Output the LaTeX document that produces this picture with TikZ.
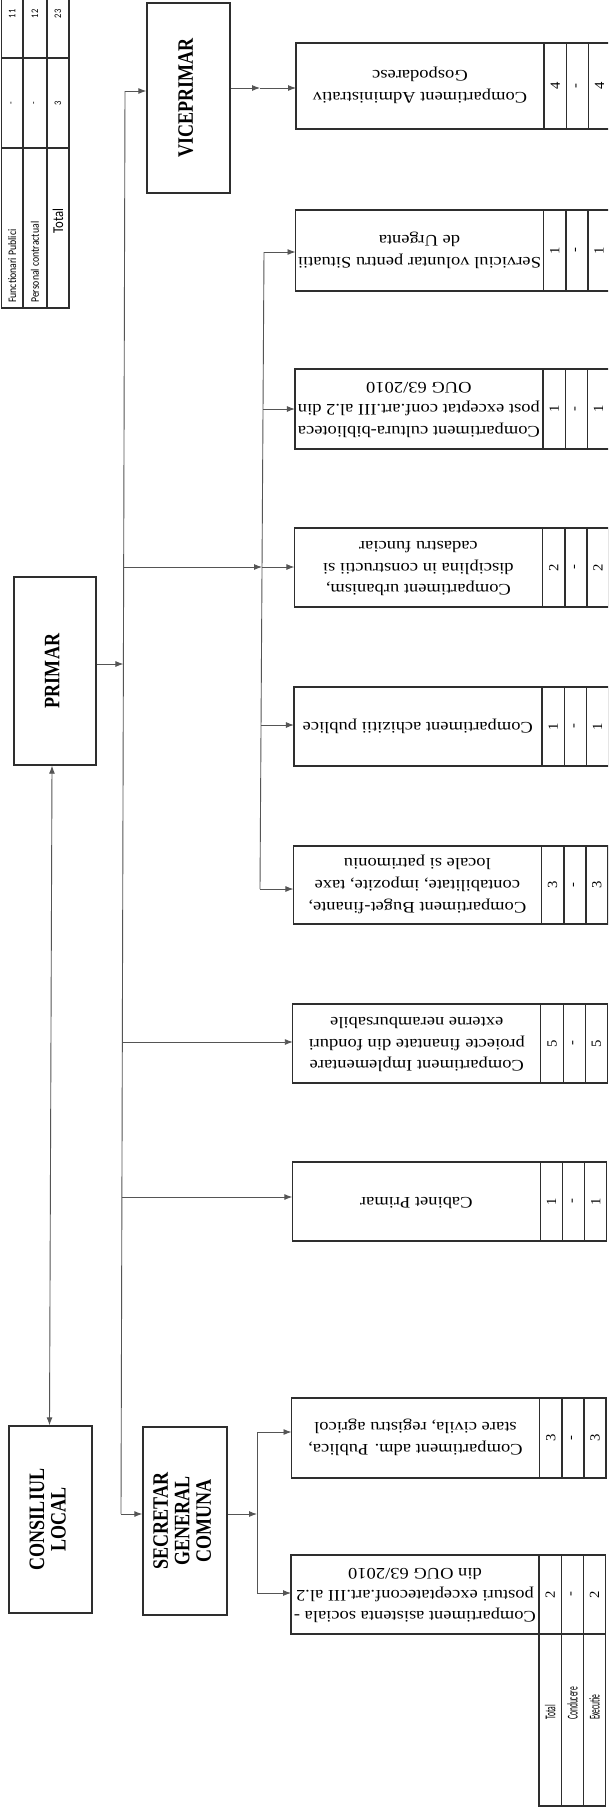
\documentclass[tikz,border=0pt]{standalone}
\usepackage{fontspec}
\setmainfont{Liberation Serif}
\newfontfamily\calib{Carlito}
\usepackage{graphicx}
\usetikzlibrary{arrows.meta}
\definecolor{bc}{HTML}{2E2E2E}
\definecolor{lc}{HTML}{555555}

\newcommand\ctext[1]{\scalebox{1}[0.87]{\rotatebox{180}{\fontsize{18.5}{25}\selectfont\begin{tabular}{@{}c@{}}#1\end{tabular}}}}
\newcommand\ntxt[1]{\rotatebox{90}{\scalebox{1.05}[1]{\fontsize{14}{14}\selectfont #1}}}
\newcommand\htxt[1]{\rotatebox{90}{\scalebox{0.82}[1]{\fontsize{22}{21.5}\selectfont\bfseries\begin{tabular}{@{}c@{}}#1\end{tabular}}}}
\newcommand\stxt[3]{\scalebox{#2}[1]{\calib\fontsize{#1}{#1}\selectfont #3}}

\newcommand\comp[8]{%
\node[cellbox, minimum width=248, minimum height={#3-#2}] (#1) at ({420+#4},{(#2+#3)/2}) {\ctext{#5}};
\node[cellbox, minimum width=22.5, minimum height={#3-#2}, anchor=west] (#1a) at (#1.east) {\ntxt{#6}};
\node[cellbox, minimum width=22, minimum height={#3-#2}, anchor=west] (#1b) at (#1a.east) {\ntxt{#7}};
\node[cellbox, minimum width=22, minimum height={#3-#2}, anchor=west] (#1c) at (#1b.east) {\ntxt{#8}};
}

\tikzset{
 cellbox/.style={draw=bc, line width=1.3pt, inner sep=0pt, outer sep=0pt},
 hbox/.style={draw=bc, line width=1.4pt, inner sep=0pt},
 lcell/.style={draw=bc, line width=1.1pt, inner sep=0pt, outer sep=0pt},
 conn/.style={draw=lc, line width=0.9pt},
 arr/.style={conn, -{Latex[length=8pt,width=6pt]}},
 darr/.style={conn, {Latex[length=8pt,width=6pt]}-{Latex[length=8pt,width=6pt]}},
}

\begin{document}
\begin{tikzpicture}[x=1pt,y=-1pt]
\useasboundingbox (0,0) rectangle (608,1807);
\clip (0,0) rectangle (608,1807);
\fill[white] (0,0) rectangle (608,1807);

% legend table
\node[lcell, minimum width=21.5, minimum height=88] (l11) at (12.25,14) {\rotatebox{90}{\stxt{10}{0.85}{11}}};
\node[lcell, minimum width=24, minimum height=88] (l21) at (35,14) {\rotatebox{90}{\stxt{10}{0.85}{12}}};
\node[lcell, minimum width=22, minimum height=88] (l31) at (58,14) {\rotatebox{90}{\stxt{10}{0.85}{23}}};
\node[lcell, minimum width=21.5, minimum height=90] (l12) at (12.25,103) {\rotatebox{90}{\stxt{10}{0.85}{-}}};
\node[lcell, minimum width=24, minimum height=90] (l22) at (35,103) {\rotatebox{90}{\stxt{10}{0.85}{-}}};
\node[lcell, minimum width=22, minimum height=90] (l32) at (58,103) {\rotatebox{90}{\stxt{10}{0.85}{3}}};
\node[lcell, minimum width=21.5, minimum height=160] (l13) at (12.25,228) {};
\node[lcell, minimum width=24, minimum height=160] (l23) at (35,228) {};
\node[lcell, minimum width=22, minimum height=160] (l33) at (58,228) {};
\node[rotate=90, anchor=west, inner sep=0pt] (lt1) at ([yshift=5]l13.south) {\stxt{11.5}{0.85}{Functionari Publici}};
\node[rotate=90, anchor=west, inner sep=0pt] (lt2) at ([yshift=5]l23.south) {\stxt{11.5}{0.85}{Personal contractual}};
\node[rotate=90, inner sep=0pt] (lt3) at (58,221) {\stxt{15}{0.85}{Total}};

% heading boxes
\node[hbox, minimum width=83, minimum height=190] (vice) at (188.5,98) {\htxt{VICEPRIMAR}};
\node[hbox, minimum width=82, minimum height=188] (primar) at (55,671) {\htxt{PRIMAR}};
\node[hbox, minimum width=83, minimum height=187] (consiliul) at (50.5,1519.5) {\htxt{CONSILIUL\\LOCAL}};
\node[hbox, minimum width=84, minimum height=188] (secretar) at (185,1521) {\htxt{SECRETAR\\GENERAL\\COMUNA}};

% compartments
\comp{c1}{43}{129}{0}{Compartiment Administrativ\\Gospodaresc}{4}{-}{4}
\comp{c2}{210}{291}{-0.5}{Serviciul voluntar pentru Situatii\\de Urgenta}{1}{-}{1}
\comp{c3}{369}{449}{-1.1}{Compartiment cultura-biblioteca\\post exceptat conf.art.III al.2 din\\OUG 63/2010}{1}{-}{1}
\comp{c4}{528}{607}{-1.6}{Compartiment urbanism,\\disciplina in constructii si\\cadastru funciar}{2}{-}{2}
\comp{c5}{687}{766}{-2.1}{Compartiment achizitii publice}{1}{-}{1}
\comp{c6}{846}{924}{-2.6}{Compartiment Buget-finante,\\contabilitate, impozite, taxe\\locale si patrimoniu}{3}{-}{3}
\comp{c7}{1004}{1083}{-3.2}{Compartiment Implementare\\proiecte finantate din fonduri\\externe nerambursabile}{5}{-}{5}
\comp{c8}{1162}{1241}{-3.7}{Cabinet Primar}{1}{-}{1}
\comp{c9}{1398}{1478}{-4.5}{Compartiment adm. Publica,\\stare civila, registru agricol}{3}{-}{3}
\comp{c10}{1555}{1634}{-5}{Compartiment asistenta sociala -\\posturi exceptateconf.art.III al.2\\din OUG 63/2010}{2}{-}{2}

% bottom table
\node[cellbox, minimum width=22.5, minimum height=172, anchor=north] (bt1) at (c10a.south) {};
\node[cellbox, minimum width=22, minimum height=172, anchor=north] (bt2) at (c10b.south) {};
\node[cellbox, minimum width=22, minimum height=172, anchor=north] (bt3) at (c10c.south) {};
\node[rotate=90, anchor=west, inner sep=0pt] (tt1) at (bt1.center |- 0,1720) {\stxt{15}{0.5}{Total}};
\node[rotate=90, anchor=west, inner sep=0pt] (tt2) at (bt2.center |- 0,1720) {\stxt{15}{0.5}{Conducere}};
\node[rotate=90, anchor=west, inner sep=0pt] (tt3) at (bt3.center |- 0,1720) {\stxt{15}{0.5}{Executie}};

% connectors
\coordinate (b1t) at (125,91);
\coordinate (b1b) at (121,1514);
\coordinate (j1) at (123.4,664);
\coordinate (j2) at (123.7,567);
\coordinate (j3) at (122.3,1042);
\coordinate (j4) at (121.9,1197);
\draw[conn] (b1t) -- (b1b);
\draw[arr] (b1t) -- (vice.west |- b1t);
\draw[arr] (primar.east |- j1) -- (j1);
\draw[arr] (j3) -- (c7.west |- j3);
\draw[arr] (j4) -- (c8.west |- j4);
\draw[arr] (b1b) -- (secretar.west |- b1b);

\coordinate (b2t) at (264,252);
\coordinate (b2b) at (260,889);
\coordinate (k3) at (263,409);
\coordinate (k4) at (262,567);
\coordinate (k5) at (261,725);
\draw[conn] (b2t) -- (b2b);
\draw[arr] (j2) -- (k4);
\draw[arr] (b2t) -- (c2.west |- b2t);
\draw[arr] (k3) -- (c3.west |- k3);
\draw[arr] (k4) -- (c4.west |- k4);
\draw[arr] (k5) -- (c5.west |- k5);
\draw[arr] (b2b) -- (c6.west |- b2b);

\coordinate (b3t) at (257,1432);
\coordinate (b3b) at (257,1593);
\coordinate (b3m) at (257,1514);
\draw[arr] (secretar.east |- b3m) -- (b3m);
\draw[conn] (b3t) -- (b3b);
\draw[arr] (b3t) -- (c9.west |- b3t);
\draw[arr] (b3b) -- (c10.west |- b3b);

\coordinate (vm) at (260,88);
\draw[arr] (vice.east |- vm) -- (vm);
\draw[arr] (vm) -- (c1.west |- vm);

\draw[darr] ([xshift=-3pt]primar.south) -- ([xshift=-1pt]consiliul.north);
\end{tikzpicture}
\end{document}
